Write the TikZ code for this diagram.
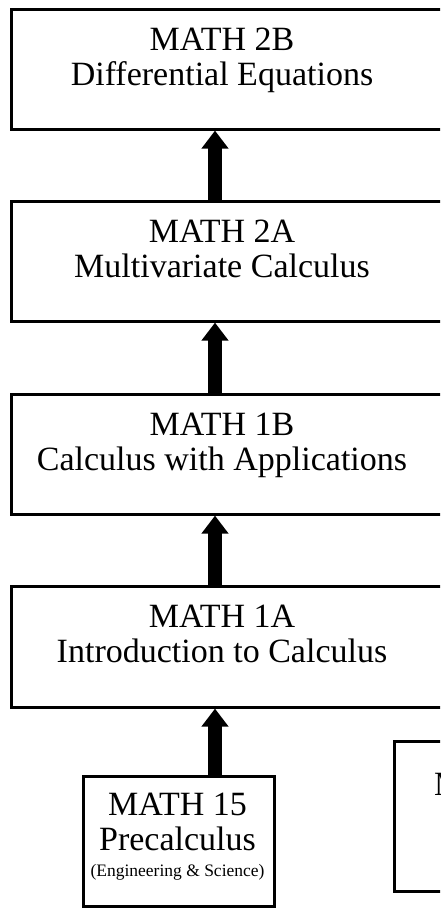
\documentclass[tikz,border=0pt]{standalone}
\usepackage{fontspec}
\setmainfont{Liberation Serif}
\usetikzlibrary{arrows.meta}
\begin{document}
\begin{tikzpicture}[x=1pt,y=-1pt,
  box/.style={draw=black,line width=2.6pt,inner sep=0pt,anchor=north west},
  big/.style={font=\fontsize{34}{36}\selectfont,inner sep=0pt,anchor=base},
  small/.style={font=\fontsize{17.5}{19}\selectfont,inner sep=0pt,anchor=base},
  up/.style={line width=14pt,-{Triangle[width=26pt,length=18pt]}}]
\useasboundingbox (0,0) rectangle (440,921);
\clip (0,0) rectangle (440,921);
\fill[white] (0,0) rectangle (440,921);
% boxes
\node[box,minimum width=470pt,minimum height=120pt] (b2b) at (10,8) {};
\node[box,minimum width=470pt,minimum height=120pt] (b2a) at (10,200) {};
\node[box,minimum width=470pt,minimum height=120pt] (b1b) at (10,393) {};
\node[box,minimum width=470pt,minimum height=121pt] (b1a) at (10,585) {};
\node[box,minimum width=191pt,minimum height=130pt] (b15) at (82,775) {};
\node[box,minimum width=120pt,minimum height=150pt] (bx) at (393,740) {};
% labels
\node[big] (t2b1) at (222,50) {MATH 2B};
\node[big] (t2b2) at (222,85) {Differential Equations};
\node[big] (t2a1) at (222,242) {MATH 2A};
\node[big] (t2a2) at (222,277) {Multivariate Calculus};
\node[big] (t1b1) at (222,435) {MATH 1B};
\node[big] (t1b2) at (222,470) {Calculus with Applications};
\node[big] (t1a1) at (222,627) {MATH 1A};
\node[big] (t1a2) at (222,662) {Introduction to Calculus};
\node[big] (t151) at (177.5,815) {MATH 15};
\node[big] (t152) at (177.5,850) {Precalculus};
\node[small] (t153) at (177.5,876) {(Engineering \& Science)};
\node[big,anchor=base west] (tx) at (434,795) {MATH};
% arrows
\coordinate (ax) at (215,0);
\draw[up] (b2a.north -| ax) -- (b2b.south -| ax);
\draw[up] (b1b.north -| ax) -- (b2a.south -| ax);
\draw[up] (b1a.north -| ax) -- (b1b.south -| ax);
\draw[up] (b15.north -| ax) -- (b1a.south -| ax);
\end{tikzpicture}
\end{document}
